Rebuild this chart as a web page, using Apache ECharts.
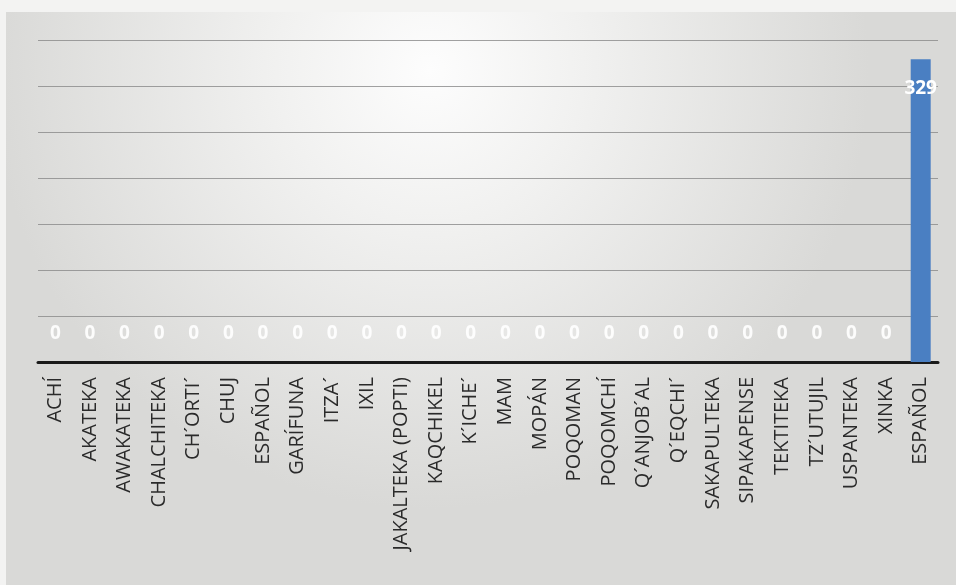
<!DOCTYPE html>
<html>
<head>
<meta charset="utf-8">
<script src="https://cdn.jsdelivr.net/npm/echarts@6/dist/echarts.min.js"></script>
<style>
html,body{margin:0;padding:0;background:#f0f0ef;}
#c{width:956px;height:585px;}
</style>
</head>
<body>
<div id="c"></div>
<script>
const categories = ["ACHÍ","AKATEKA","AWAKATEKA","CHALCHITEKA","CH´ORTI´","CHUJ","ESPAÑOL","GARÍFUNA","ITZA´","IXIL","JAKALTEKA (POPTI)","KAQCHIKEL","K´ICHE´","MAM","MOPÁN","POQOMAN","POQOMCHÍ","Q´ANJOB´AL","Q´EQCHI´","SAKAPULTEKA","SIPAKAPENSE","TEKTITEKA","TZ´UTUJIL","USPANTEKA","XINKA","ESPAÑOL"];
const values = [0,0,0,0,0,0,0,0,0,0,0,0,0,0,0,0,0,0,0,0,0,0,0,0,0,329];

const chart = echarts.init(document.getElementById('c'));
chart.setOption({
  backgroundColor: {
    type: 'radial', x: 0.45, y: 0.12, r: 0.75,
    colorStops: [
      {offset: 0, color: '#fdfdfd'},
      {offset: 0.35, color: '#f1f1f0'},
      {offset: 1, color: '#d9d9d7'}
    ]
  },
  animation: false,
  graphic: [
    {type: 'rect', shape: {x: 0, y: 0, width: 956, height: 12}, style: {fill: '#f3f3f2'}},
    {type: 'rect', shape: {x: 0, y: 0, width: 6, height: 585}, style: {fill: '#f3f3f2'}}
  ],
  grid: {left: 38, right: 18, top: 40, bottom: 223, containLabel: false},
  xAxis: {
    type: 'category',
    data: categories,
    axisLine: {lineStyle: {color: '#1a1a1a', width: 3}},
    axisTick: {show: false},
    axisLabel: {
      rotate: 90, interval: 0, margin: 15,
      fontFamily: 'Open Sans', fontSize: 20, color: '#2a2a2a'
    }
  },
  yAxis: {
    type: 'value', min: 0, max: 350, interval: 50,
    axisLabel: {show: false},
    axisLine: {show: false},
    axisTick: {show: false},
    splitLine: {lineStyle: {color: '#8a8a8a', width: 1, opacity: 0.8}}
  },
  series: [{
    type: 'bar',
    barWidth: 20,
    itemStyle: {color: '#4a7fc2'},
    label: {
      show: true, position: 'top', distance: 19,
      color: 'rgba(255,255,255,0.9)', fontFamily: 'Open Sans', fontSize: 19, fontWeight: 'bold'
    },
    data: values.map(v => v > 0
      ? {value: v, label: {position: 'insideTop', distance: 20, fontSize: 19, color: '#ffffff'}}
      : v)
  }]
});
</script>
</body>
</html>
